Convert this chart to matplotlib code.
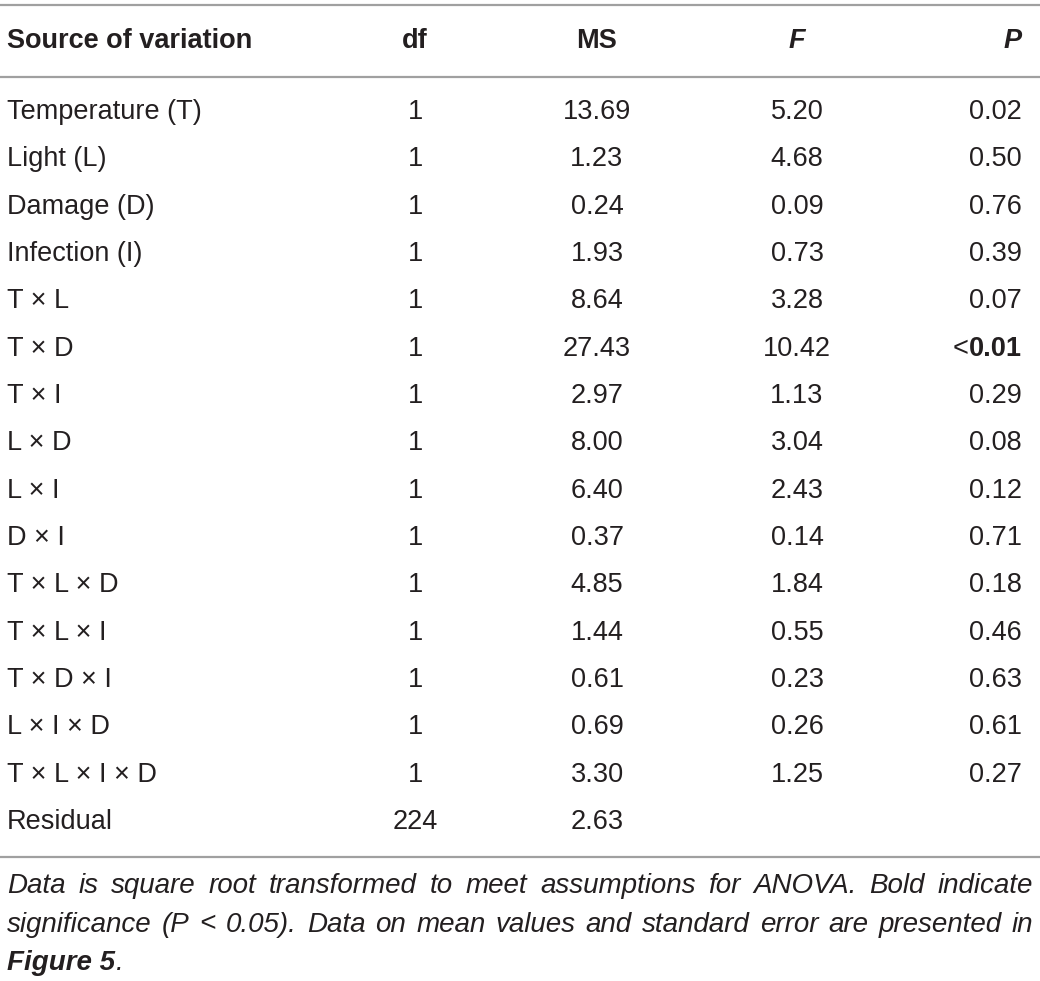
import matplotlib
matplotlib.use("Agg")
import matplotlib.pyplot as plt

# table content
headers = ["Source of variation", "df", "MS", "F", "P"]
sources = ["Temperature (T)", "Light (L)", "Damage (D)", "Infection (I)",
           "T \u00d7 L", "T \u00d7 D", "T \u00d7 I", "L \u00d7 D", "L \u00d7 I", "D \u00d7 I",
           "T \u00d7 L \u00d7 D", "T \u00d7 L \u00d7 I", "T \u00d7 D \u00d7 I", "L \u00d7 I \u00d7 D",
           "T \u00d7 L \u00d7 I \u00d7 D", "Residual"]
df_vals = ["1"] * 15 + ["224"]
ms_vals = ["13.69", "1.23", "0.24", "1.93", "8.64", "27.43", "2.97", "8.00", "6.40",
           "0.37", "4.85", "1.44", "0.61", "0.69", "3.30", "2.63"]
f_vals = ["5.20", "4.68", "0.09", "0.73", "3.28", "10.42", "1.13", "3.04", "2.43",
          "0.14", "1.84", "0.55", "0.23", "0.26", "1.25", ""]
p_vals = ["0.02", "0.50", "0.76", "0.39", "0.07", "<0.01", "0.29", "0.08", "0.12",
          "0.71", "0.18", "0.46", "0.63", "0.61", "0.27", ""]
bold_p = ["<0.01"]

footnote = ("Data is square root transformed to meet assumptions for ANOVA. Bold indicate "
            "significance (P < 0.05). Data on mean values and standard error are presented in")
footnote_end = "Figure 5"

TXT = "#231f20"
LINE = "#a0a0a0"
FS = 19.5

fig = plt.figure(figsize=(10.4, 9.81), dpi=100)
ax = fig.add_axes([0, 0, 1, 1])
ax.set_xlim(0, 1040)
ax.set_ylim(981, 0)
ax.axis("off")
renderer = fig.canvas.get_renderer()

for y in (5, 77, 857):
    ax.plot([0, 1040], [y, y], color=LINE, lw=1.6, solid_capstyle="butt")

font = dict(family="Liberation Sans", fontsize=FS, color=TXT, va="center")

hy = 41
ax.text(7, hy, headers[0], ha="left", fontweight="bold", **font)
ax.text(415, hy, headers[1], ha="center", fontweight="bold", **font)
ax.text(597, hy, headers[2], ha="center", fontweight="bold", **font)
ax.text(797, hy, headers[3], ha="center", fontweight="bold", fontstyle="italic", **font)
ax.text(1022, hy, headers[4], ha="right", fontweight="bold", fontstyle="italic", **font)

y0, dy = 112, 47.33
for i, src in enumerate(sources):
    y = y0 + i * dy
    ax.text(7, y, src, ha="left", **font)
    ax.text(415, y, df_vals[i], ha="center", **font)
    ax.text(597, y, ms_vals[i], ha="center", **font)
    ax.text(797, y, f_vals[i], ha="center", **font)
    if p_vals[i] in bold_p:
        # "<" stays regular, the number is bold
        t = ax.text(1022, y, p_vals[i][1:], ha="right", fontweight="bold", **font)
        w = t.get_window_extent(renderer).width
        ax.text(1022 - w - 1, y, p_vals[i][0], ha="right", **font)
    else:
        ax.text(1022, y, p_vals[i], ha="right", **font)

# justified footnote
fn_font = dict(family="Liberation Sans", fontsize=20, color=TXT, va="center", fontstyle="italic")
words = footnote.split()
lines = []
cur = []
left, right = 7, 1033
for w in words:
    t = ax.text(0, 0, " ".join(cur + [w]), **fn_font)
    bw = t.get_window_extent(renderer).width
    t.remove()
    if bw > right - left and cur:
        lines.append(cur)
        cur = [w]
    else:
        cur.append(w)
lines.append(cur)

fy0, fdy = 886, 38.5
for li, ws in enumerate(lines):
    y = fy0 + li * fdy
    widths = []
    for w in ws:
        t = ax.text(0, 0, w, **fn_font)
        widths.append(t.get_window_extent(renderer).width)
        t.remove()
    gap = (right - left - sum(widths)) / max(len(ws) - 1, 1)
    x = left
    for w, wd in zip(ws, widths):
        ax.text(x, y, w, ha="left", **fn_font)
        x += wd + gap

ylast = fy0 + len(lines) * fdy
t = ax.text(left, ylast, footnote_end, ha="left", fontweight="bold", **fn_font)
bb = t.get_window_extent(renderer)
ax.text(left + bb.width + 1, ylast, ".", ha="left", **fn_font)

fig.savefig("out.png", dpi=100, facecolor="white")
